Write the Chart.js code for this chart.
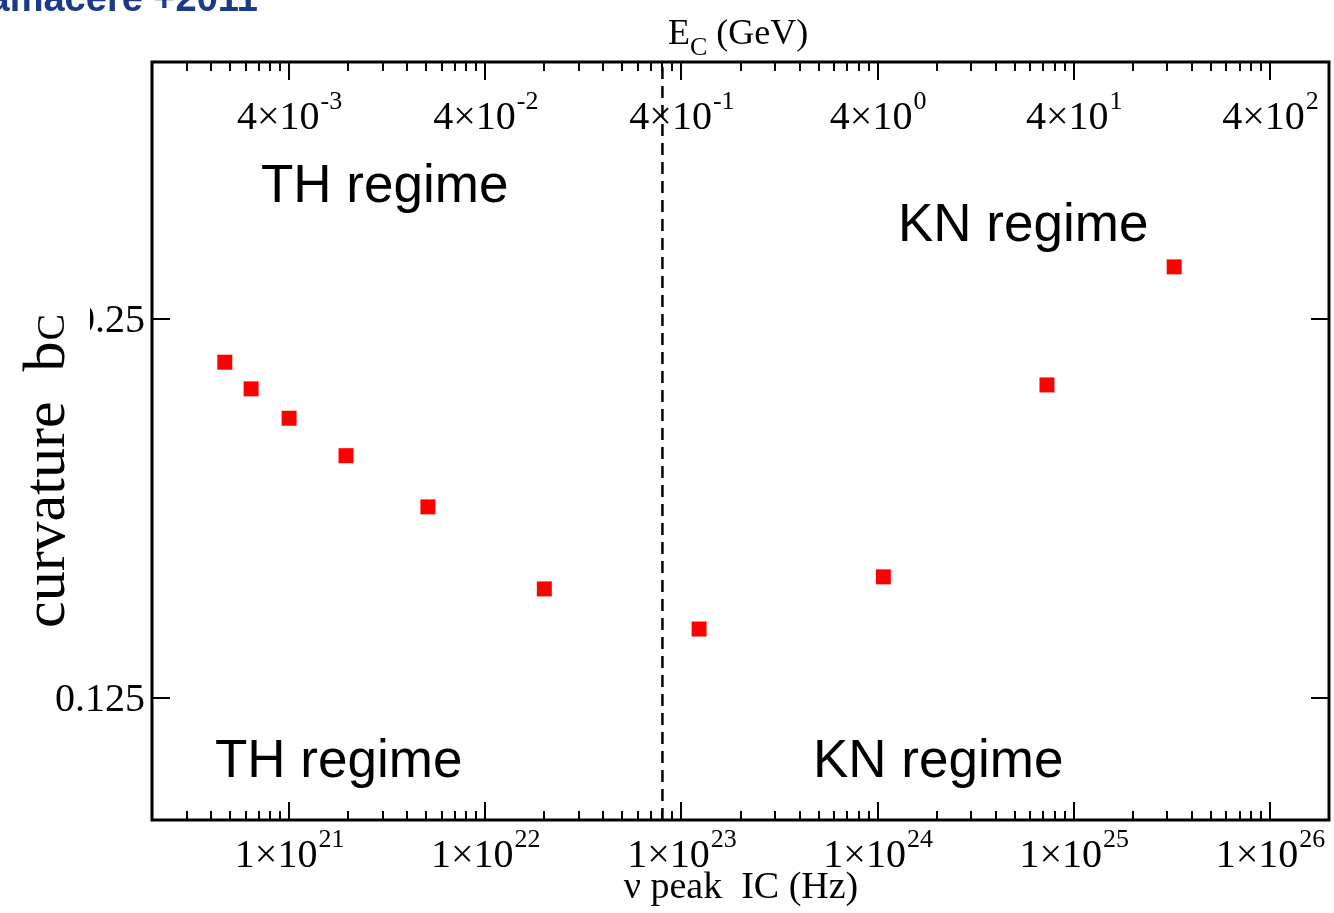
<!DOCTYPE html>
<html>
<head>
<meta charset="utf-8">
<title>curvature vs IC peak frequency</title>
<script src="https://cdn.jsdelivr.net/npm/chart.js@4.4.0/dist/chart.umd.min.js"></script>
<style>
  html, body { margin: 0; padding: 0; background: #fff; overflow: hidden; }
  #wrap { width: 1334px; height: 913px; position: relative; }
  #curvChart { display: block; }
</style>
</head>
<body>
<div id="wrap"><canvas id="curvChart"></canvas></div>
<script>
// IC peak frequency (Hz) and log-parabola curvature b_C
const nuPeak = [4.7e20, 6.4e20, 1.0e21, 1.95e21, 5.1e21, 2.0e22, 1.23e23, 1.07e24, 7.3e24, 3.25e25];
const curvature = [0.231, 0.220, 0.2085, 0.1947, 0.1773, 0.1526, 0.1418, 0.156, 0.2216, 0.275];

// Thomson / Klein-Nishina boundary
const nuBoundary = 8e22;

// axis ranges
const nuRange = [2e20, 2e26];
const bRange = [0.1, 0.4];
// top axis: E_C (GeV) = nu * eScale
const eScale = 4e-24;

// tick labels
const nuTickExp = [21, 22, 23, 24, 25, 26];
const eTickExp = [-3, -2, -1, 0, 1, 2];
const bTicks = [0.125, 0.25];
const bTickLabels = ['0.125', '0.25'];

const serif = '"Liberation Serif", "DejaVu Serif", serif';
const sans = '"Liberation Sans", Arial, sans-serif';

// "m×10^e" with a raised exponent, centred on cx
function sciLabel(ctx, mant, exp, cx, baseline) {
  const base = mant + '×10';
  const sup = String(exp);
  ctx.font = '40px ' + serif;
  const wb = ctx.measureText(base).width;
  ctx.font = '26px ' + serif;
  const ws = ctx.measureText(sup).width;
  const x0 = cx - (wb + ws) / 2;
  ctx.textAlign = 'left';
  ctx.font = '40px ' + serif;
  ctx.fillText(base, x0, baseline);
  ctx.font = '26px ' + serif;
  ctx.fillText(sup, x0 + wb + 1, baseline - 20);
}

// 1..9 x 10^n positions inside a log range
function logTicks(min, max) {
  const out = [];
  for (let n = Math.floor(Math.log10(min)); n <= Math.ceil(Math.log10(max)); n++) {
    for (let k = 1; k <= 9; k++) {
      const v = k * Math.pow(10, n);
      if (v > min && v < max) out.push({ v: v, major: k === 1 });
    }
  }
  return out;
}

// frame, inward ticks, labels and annotations
const frameAxes = {
  id: 'frameAxes',
  afterDraw(chart) {
    const { ctx, chartArea: a, scales } = chart;
    const x = scales.x, x2 = scales.x2, y = scales.y;
    ctx.save();
    ctx.strokeStyle = '#000';
    ctx.fillStyle = '#000';

    ctx.lineWidth = 2;
    ctx.beginPath();
    logTicks(nuRange[0], nuRange[1]).forEach(t => {
      const len = t.major ? 18 : 9;
      const pb = Math.round(x.getPixelForValue(t.v));
      ctx.moveTo(pb, a.bottom);
      ctx.lineTo(pb, a.bottom - len);
      const pt = Math.round(x2.getPixelForValue(t.v * eScale));
      ctx.moveTo(pt, a.top);
      ctx.lineTo(pt, a.top + len);
    });
    bTicks.forEach(v => {
      const py = Math.round(y.getPixelForValue(v));
      ctx.moveTo(a.left, py);
      ctx.lineTo(a.left + 18, py);
      ctx.moveTo(a.right, py);
      ctx.lineTo(a.right - 18, py);
    });
    ctx.stroke();

    ctx.lineWidth = 3;
    ctx.strokeRect(a.left, a.top, a.right - a.left, a.bottom - a.top);

    // tick labels
    ctx.textBaseline = 'alphabetic';
    nuTickExp.forEach(e => sciLabel(ctx, '1', e, x.getPixelForValue(Math.pow(10, e)), 867));
    eTickExp.forEach(e => sciLabel(ctx, '4', e, x2.getPixelForValue(4 * Math.pow(10, e)), 129));

    ctx.font = '40px ' + serif;
    ctx.textAlign = 'right';
    bTicks.forEach((v, i) => ctx.fillText(bTickLabels[i], 145, y.getPixelForValue(v) + 13));

    // axis titles
    ctx.textAlign = 'left';
    ctx.font = '36px ' + serif;
    ctx.fillText('E', 668, 44);
    const wE = ctx.measureText('E').width;
    ctx.font = '26px ' + serif;
    ctx.fillText('C', 668 + wE, 55);
    const wC = ctx.measureText('C').width;
    ctx.font = '36px ' + serif;
    ctx.fillText(' (GeV)', 668 + wE + wC, 44);

    ctx.textAlign = 'center';
    ctx.font = '38px ' + serif;
    ctx.fillText('ν peak  IC (Hz)', 741, 898);

    ctx.fillStyle = '#fff';
    ctx.fillRect(0, 295, 90, 345);
    ctx.fillStyle = '#000';
    ctx.save();
    ctx.translate(64, 628);
    ctx.rotate(-Math.PI / 2);
    ctx.textAlign = 'left';
    ctx.font = '60px ' + serif;
    ctx.fillText('curvature  b', 0, 0);
    const wb = ctx.measureText('curvature  b').width;
    ctx.font = '40px ' + serif;
    ctx.fillText('C', wb + 1, 0);
    ctx.restore();

    // regime annotations
    ctx.textAlign = 'left';
    ctx.font = '53px ' + sans;
    ctx.fillText('TH regime', 261, 202);
    ctx.fillText('KN regime', 898, 241);
    ctx.fillText('TH regime', 215, 777);
    ctx.fillText('KN regime', 813, 777);

    // source tag in the corner
    ctx.fillStyle = '#1b3a8a';
    ctx.textAlign = 'right';
    ctx.font = 'bold 38px ' + sans;
    ctx.fillText('Tramacere +2011', 258, 11);

    ctx.restore();
  }
};

const points = nuPeak.map((v, i) => ({ x: v, y: curvature[i] }));

new Chart(document.getElementById('curvChart'), {
  type: 'scatter',
  data: {
    datasets: [
      {
        data: points,
        pointStyle: 'rect',
        pointRadius: 10.6,
        pointHoverRadius: 10.6,
        backgroundColor: '#ff0000',
        borderWidth: 0,
      },
      {
        type: 'line',
        data: [{ x: nuBoundary, y: bRange[0] }, { x: nuBoundary, y: bRange[1] }],
        borderColor: '#000',
        borderWidth: 2.5,
        borderDash: [12, 7],
        pointRadius: 0,
        fill: false,
      },
    ],
  },
  options: {
    responsive: true,
    maintainAspectRatio: false,
    animation: false,
    devicePixelRatio: 1,
    layout: { autoPadding: false, padding: { left: 152, right: 5, top: 62, bottom: 93 } },
    plugins: { legend: { display: false }, tooltip: { enabled: false } },
    scales: {
      x: { type: 'logarithmic', min: nuRange[0], max: nuRange[1], display: false },
      x2: { type: 'logarithmic', axis: 'x', position: 'top', min: nuRange[0] * eScale, max: nuRange[1] * eScale, display: false },
      y: { type: 'logarithmic', min: bRange[0], max: bRange[1], display: false },
    },
  },
  plugins: [frameAxes],
});
</script>
</body>
</html>
